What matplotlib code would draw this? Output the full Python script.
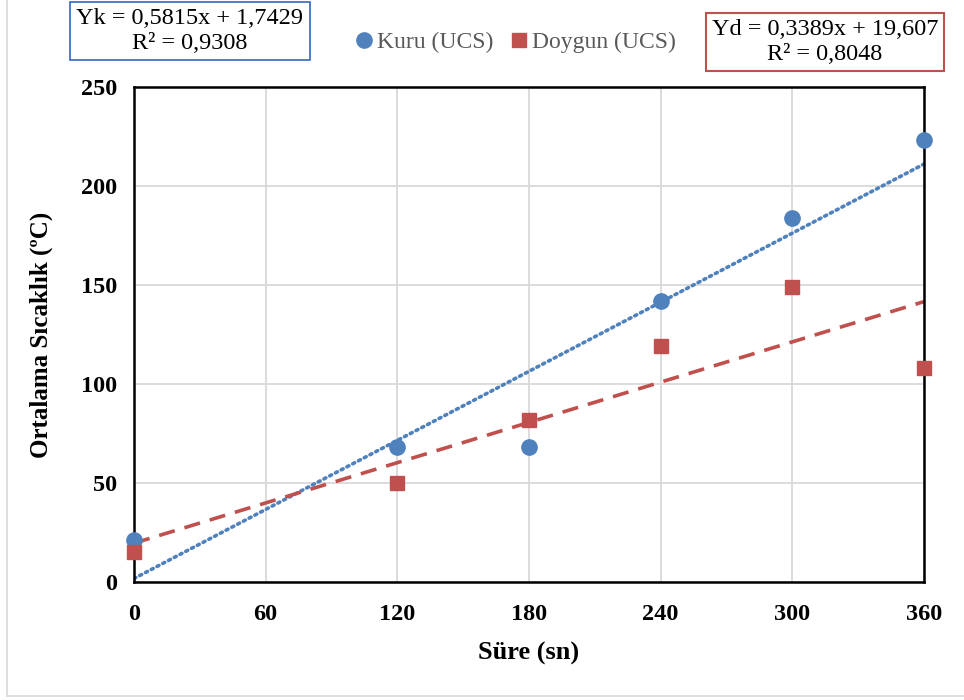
import matplotlib.pyplot as plt
import numpy as np

plt.rcParams['font.family'] = ['Liberation Serif', 'DejaVu Serif']

sure = [0, 120, 180, 240, 300, 360]
kuru = [21, 68, 68, 142, 184, 223]
doygun = [15, 50, 82, 119, 149, 108]

# trendline coefficients as shown on the chart
kuru_fit = (0.5815, 1.7429)
doygun_fit = (0.3389, 19.607)
kuru_eq = "Yk = 0,5815x + 1,7429\nR² = 0,9308"
doygun_eq = "Yd = 0,3389x + 19,607\nR² = 0,8048"

blue = '#4F81BD'
red = '#C0504D'


def main():
    fig = plt.figure(figsize=(9.64, 7.0), dpi=100)
    ax = fig.add_axes([134 / 964, 1 - 582 / 700, 790 / 964, 495 / 700])

    # outer chart border (partly cropped in the original)
    fig.add_artist(plt.Line2D([7 / 964, 7 / 964], [4 / 700, 1.0], color='#D9D9D9',
                              lw=1.2, transform=fig.transFigure))
    fig.add_artist(plt.Line2D([7 / 964, 1.0], [4 / 700, 4 / 700], color='#D9D9D9',
                              lw=1.2, transform=fig.transFigure))

    xs = np.array([sure[0], sure[-1]])
    ax.plot(xs, kuru_fit[0] * xs + kuru_fit[1], color=blue, lw=2.6,
            linestyle=(0, (0.6, 1.2)), dash_capstyle='round', zorder=2)
    ax.plot(xs, doygun_fit[0] * xs + doygun_fit[1], color=red, lw=2.6,
            linestyle=(0, (4.5, 2.8)), zorder=2)

    ax.plot(sure, kuru, 'o', color=blue, markersize=11, label='Kuru (UCS)',
            zorder=3, clip_on=False)
    ax.plot(sure, doygun, 's', color=red, markersize=10.5, label='Doygun (UCS)',
            zorder=3, clip_on=False)

    ax.set_xlim(0, 360)
    ax.set_ylim(0, 250)
    ax.set_xticks(np.arange(0, 361, 60))
    ax.set_yticks(np.arange(0, 251, 50))
    ax.grid(True, color='#D9D9D9', lw=1.3)
    ax.set_axisbelow(True)
    for s in ax.spines.values():
        s.set_color('black')
        s.set_linewidth(1.8)
    ax.tick_params(length=0, labelsize=17.5)
    ax.tick_params(axis='x', pad=16)
    ax.tick_params(axis='y', pad=12)
    for lab in ax.get_xticklabels() + ax.get_yticklabels():
        lab.set_fontweight('bold')

    ax.set_xlabel('Süre (sn)', fontsize=19, fontweight='bold', labelpad=12)
    ax.set_ylabel('Ortalama Sıcaklık (ºC)', fontsize=18, fontweight='bold', labelpad=20)

    fig.legend(loc='center', bbox_to_anchor=(514 / 964, 1 - 42 / 700), ncol=2,
               frameon=False, fontsize=17, handletextpad=0.05, columnspacing=0.6,
               handlelength=1.0, labelcolor='#595959')

    fig.text(190 / 964, 1 - 31 / 700, kuru_eq, ha='center', va='center', fontsize=17.5,
             linespacing=1.25,
             bbox=dict(boxstyle='square,pad=0.25', fc='white', ec='#4472C4', lw=1.3))
    fig.text(825 / 964, 1 - 42 / 700, doygun_eq, ha='center', va='center', fontsize=17.5,
             linespacing=1.25,
             bbox=dict(boxstyle='square,pad=0.25', fc='white', ec=red, lw=1.5))

    fig.savefig('out.png', dpi=100)


if __name__ == "__main__":
    main()
